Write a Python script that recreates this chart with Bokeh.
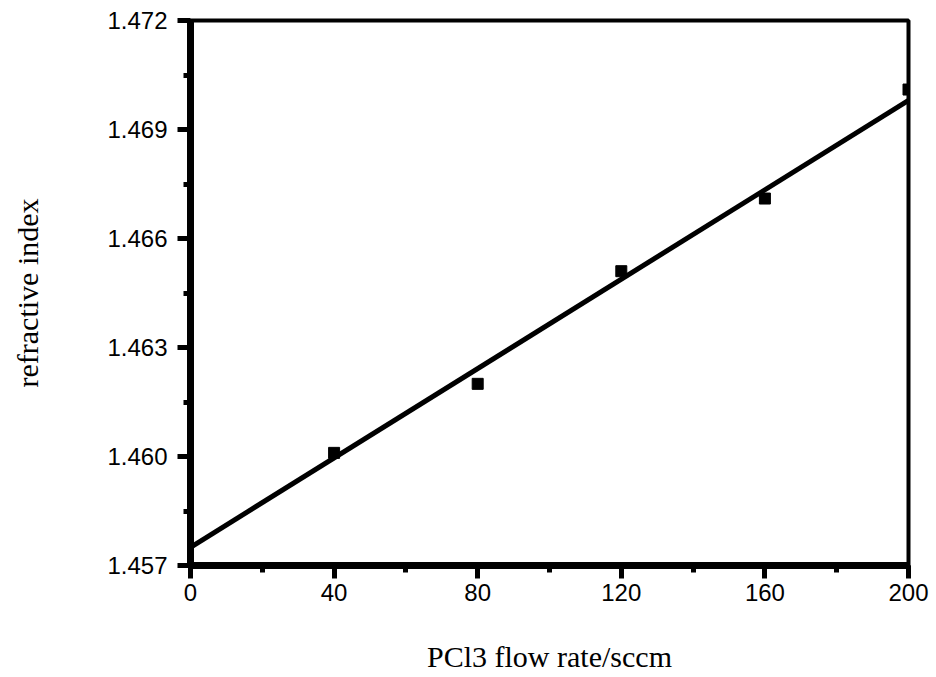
from bokeh.plotting import figure
from bokeh.models import SingleIntervalTicker, FixedTicker, NumeralTickFormatter, Range1d
from bokeh.embed import file_html
from bokeh.resources import INLINE

# data
flow_rate = [40, 80, 120, 160, 200]
refr_index = [1.4601, 1.4620, 1.4651, 1.4671, 1.4701]
fit_x = [0, 200]
fit_y = [1.4575, 1.4698]
y_ticks = [1.457, 1.460, 1.463, 1.466, 1.469, 1.472]
y_minor = [1.4585, 1.4615, 1.4645, 1.4675, 1.4705]

p = figure(width=936, height=677, output_backend="svg", toolbar_location=None,
           x_range=Range1d(0, 200), y_range=Range1d(1.457, 1.472),
           min_border_left=190, min_border_right=28, min_border_top=20, min_border_bottom=112)
p.grid.visible = False
p.background_fill_color = "white"
p.outline_line_color = "black"
p.outline_line_width = 4

p.line(fit_x, fit_y, line_color="black", line_width=5)
p.scatter(flow_rate, refr_index, marker="square", size=11, color="black")

p.xaxis.ticker = SingleIntervalTicker(interval=40, num_minor_ticks=2)
p.yaxis.ticker = FixedTicker(ticks=y_ticks, minor_ticks=y_minor)
p.yaxis.formatter = NumeralTickFormatter(format="0.000")

for ax in (p.xaxis[0], p.yaxis[0]):
    ax.axis_line_width = 7
    ax.axis_line_color = "black"
    ax.major_tick_out = 13
    ax.major_tick_in = 0
    ax.minor_tick_out = 7
    ax.minor_tick_in = 0
    ax.major_tick_line_width = 5
    ax.minor_tick_line_width = 5
    ax.major_label_text_font = "Liberation Sans"
    ax.major_label_text_font_size = "24px"
    ax.major_label_text_color = "black"
    ax.axis_label_text_font = "Liberation Serif"
    ax.axis_label_text_font_style = "normal"
    ax.axis_label_text_font_size = "30px"
    ax.axis_label_text_color = "black"

p.xaxis.axis_label = "PCl3 flow rate/sccm"
p.yaxis.axis_label = "refractive index"
p.xaxis.major_label_standoff = 5
p.yaxis.major_label_standoff = 10
p.xaxis.axis_label_standoff = 36
p.yaxis.axis_label_standoff = 60

open("out.html", "w").write(file_html(p, INLINE))
